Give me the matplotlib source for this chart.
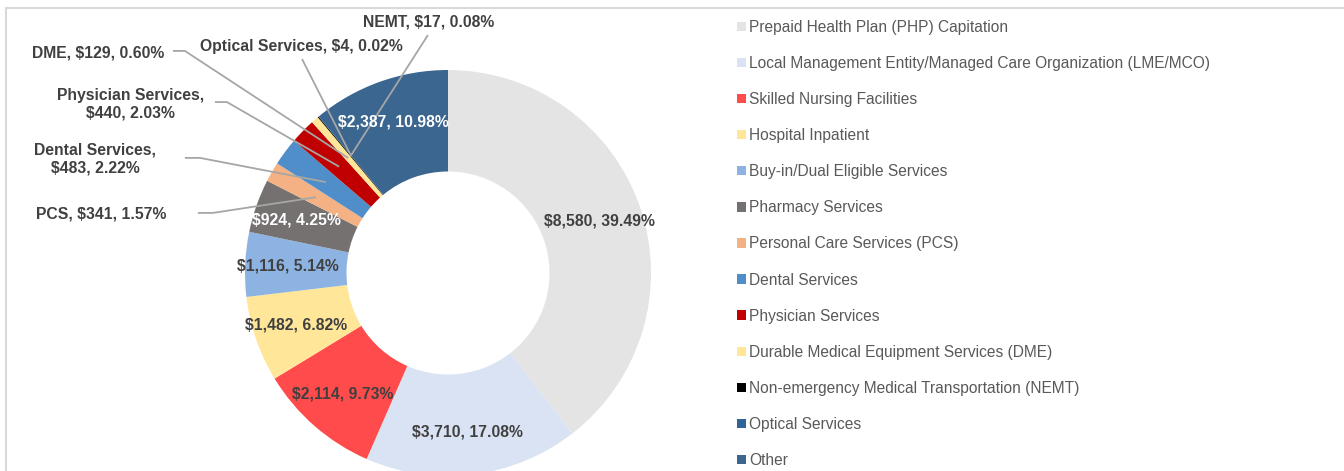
import numpy as np
import matplotlib.pyplot as plt
from matplotlib.lines import Line2D

plt.rcParams['font.family'] = ['Liberation Sans', 'DejaVu Sans']

# Gasto por categoria (millones de $) y porcentaje del total
categorias = [
    "Prepaid Health Plan (PHP) Capitation",
    "Local Management Entity/Managed Care Organization (LME/MCO)",
    "Skilled Nursing Facilities",
    "Hospital Inpatient",
    "Buy-in/Dual Eligible Services",
    "Pharmacy Services",
    "Personal Care Services (PCS)",
    "Dental Services",
    "Physician Services",
    "Durable Medical Equipment Services (DME)",
    "Non-emergency Medical Transportation (NEMT)",
    "Optical Services",
    "Other",
]
valores = [8580, 3710, 2114, 1482, 1116, 924, 341, 483, 440, 129, 17, 4, 2387]
porcentajes = [39.49, 17.08, 9.73, 6.82, 5.14, 4.25, 1.57, 2.22, 2.03, 0.60, 0.08, 0.02, 10.98]
nombres_cortos = [None, None, None, None, None, None,
                  "PCS", "Dental Services", "Physician Services", "DME",
                  "NEMT", "Optical Services", None]

colores = ['#e4e4e4', '#dae3f3', '#ff4b4b', '#ffe699', '#8db3e2', '#767171',
           '#f4b183', '#4f8ec9', '#c00000', '#ffe699', '#000000', '#2f6496', '#3a668f']

W, H = 1344, 471
cx, cy, R = 448, 273, 203   # centro y radio del anillo en pixeles

fig = plt.figure(figsize=(W / 100, H / 100), dpi=100)
ax = fig.add_axes([0, 0, 1, 1])

wedges, _ = ax.pie(valores, colors=colores, startangle=90, counterclock=False,
                   radius=1.0, wedgeprops=dict(width=0.5, linewidth=0))
ax.set_xlim(-cx / R, (W - cx) / R)
ax.set_ylim(-(H - cy) / R, cy / R)
ax.set_aspect('equal')
ax.axis('off')

# angulo medio de cada porcion
frac = np.array(valores) / np.sum(valores)
acum = np.cumsum(frac) - frac / 2
ang = np.deg2rad(90 - acum * 360)

# etiquetas dentro del anillo
blancas = {5, 12}
for i in range(len(valores)):
    if nombres_cortos[i] is not None:
        continue
    r = 0.79
    txt = f"${valores[i]:,}, {porcentajes[i]:.2f}%"
    ax.text(r * np.cos(ang[i]), r * np.sin(ang[i]), txt, ha='center', va='center',
            fontsize=11.3, fontweight='bold',
            color='white' if i in blancas else '#404040')

# etiquetas fuera con lineas guia: (texto x, y, inicio de linea x, y, codo x)
afuera = {
    10: (-0.094, 1.236, -0.099, 1.172, None),
    11: (-0.724, 1.118, -0.719, 1.054, None),
    9: (-1.724, 1.084, -1.355, 1.094, -1.296),
    8: (-1.562, 0.833, -1.148, 0.842, -1.089),
    7: (-1.739, 0.562, -1.296, 0.567, -1.222),
    6: (-1.709, 0.291, -1.232, 0.296, -1.158),
}
for i, (tx, ty, lx, ly, codo) in afuera.items():
    nombre = nombres_cortos[i]
    if i in (7, 8):
        txt = f"{nombre},\n${valores[i]:,}, {porcentajes[i]:.2f}%"
    else:
        txt = f"{nombre}, ${valores[i]:,}, {porcentajes[i]:.2f}%"
    ax.text(tx, ty, txt, ha='center', va='center', fontsize=11.3,
            fontweight='bold', color='#404040', multialignment='center',
            linespacing=1.2)
    px, py = 0.75 * np.cos(ang[i]), 0.75 * np.sin(ang[i])
    xs, ys = [lx], [ly]
    if codo is not None:
        xs.append(codo)
        ys.append(ly)
    xs.append(px)
    ys.append(py)
    ax.plot(xs, ys, color='#a6a6a6', lw=1.3, solid_capstyle='butt')

leg = fig.legend(wedges, categorias, loc='upper left',
                 bbox_to_anchor=(737 / W, 1 - 20 / H), frameon=False,
                 fontsize=11.2, handlelength=0.55, handleheight=0.55,
                 handletextpad=0.25, labelspacing=1.355, borderpad=0,
                 borderaxespad=0)
for t in leg.get_texts():
    t.set_color('#595959')

# marco gris del grafico
fig.add_artist(Line2D([6 / W, 1], [1 - 8 / H, 1 - 8 / H], color='#d9d9d9', lw=1.5))
fig.add_artist(Line2D([6 / W, 6 / W], [0, 1 - 8 / H], color='#d9d9d9', lw=1.5))

fig.savefig('out.png', dpi=100)
